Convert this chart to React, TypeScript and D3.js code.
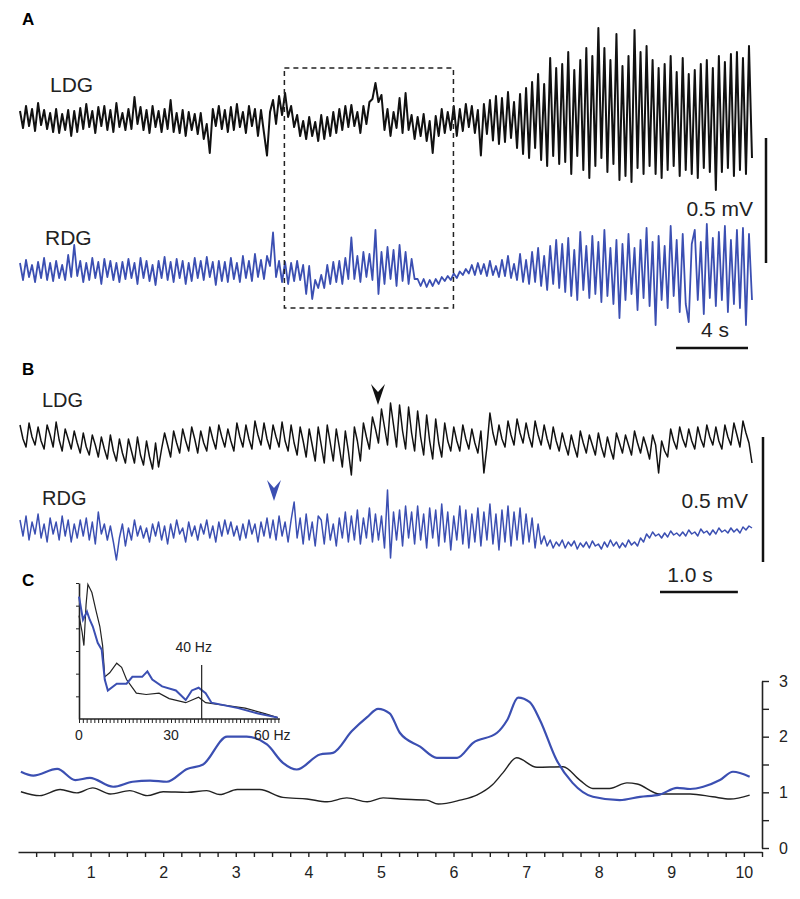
import React, { useEffect, useRef } from "react";
import * as d3 from "d3";

const W = 800;
const H = 899;
const BLUE = "#3b4fb2";
const INK = "#111";
const FONT = "'Liberation Sans', Arial, Helvetica, sans-serif";

// A: 40.7 s of dentate gyrus field potential (µV), evenly sampled
const A_SECONDS = 40.7;
const aLdg = [
  28, -40, 48, -32, 36, -52, 60, -28, 32, -44,
  20, -56, 36, -60, 16, -48, 32, -72, 28, -56,
  40, -44, 56, -36, 28, -60, 44, -32, 48, -48,
  32, -56, 60, -36, 20, -48, 36, -44, 84, -24,
  44, -48, 32, -60, 48, -36, 28, -56, 36, -44,
  72, -56, 20, -60, 32, -72, 24, -48, 16, -64,
  20, -84, -24, -140, 36, -32, 48, -44, 32, -56,
  44, -48, 56, -36, 24, -60, 48, -32, 36, -72,
  32, -60, -150, 24, 72, -24, 88, 12, 100, 4,
  48, -36, 12, -72, -12, -84, 4, -72, -16, -92,
  12, -84, 4, -72, 24, -60, 36, -48, 48, -36,
  52, -32, 24, -60, 48, -24, 64, 76, 140, 64,
  92, -48, 36, -72, 24, -40, 80, -60, 100, -48,
  12, -84, 4, -72, 16, -92, -12, -140, 8, -72,
  36, -60, 24, -48, 48, -72, 36, -52, 56, -36,
  48, -60, 32, -150, 56, -64, 72, -90, 88, -104,
  80, -96, 104, -80, 64, -120, 96, -144, 120, -160,
  144, -120, 176, -168, 136, -192, 240, -152, 200, -184,
  216, -176, 264, -224, 192, -152, 232, -208, 280, -240,
  248, -192, 360, -160, 280, -216, 232, -184, 336, -248,
  208, -232, 248, -256, 352, -200, 264, -224, 288, -192,
  232, -224, 200, -240, 216, -208, 248, -192, 184, -232,
  240, -208, 176, -224, 192, -240, 216, -200, 232, -216,
  200, -288, 248, -216, 224, -200, 256, -232, 264, -208,
  240, -224, 288, -160,
];
const aRdg = [
  28, -40, 40, -28, 20, -48, 32, -32, 48, -40,
  28, -44, 36, -32, 20, -40, 60, -28, 100, -24,
  36, -48, 28, -40, 48, -32, 32, -56, 44, -28,
  36, -40, 28, -48, 32, -36, 44, -32, 28, -56,
  48, -32, 36, -44, 20, -60, 36, -32, 52, -40,
  32, -48, 44, -32, 36, -56, 28, -44, 48, -32,
  36, -40, 52, -28, 32, -60, 36, -44, 32, -48,
  48, -36, 28, -48, 56, -32, 36, -44, 64, -28,
  40, -36, 56, 16, 150, -28, 36, -48, 32, -56,
  28, -44, 36, -40, 20, -96, 16, -116, -40, -72,
  -20, -72, 20, -56, 32, -48, 36, -56, 48, -36,
  130, -36, 56, -48, 72, -28, 64, -40, 160, -96,
  72, -56, 92, -36, 80, -64, 100, -44, 72, -56,
  44, -36, -36, -64, -36, -68, -40, -64, -36, -56,
  -28, -44, -24, -40, -14, -32, -6, -20, 4, -14,
  20, -20, 28, -16, 24, -24, 36, -20, 16, -28,
  40, -24, 56, -32, 24, -40, 64, -48, 40, -56,
  72, -48, 88, -64, 56, -80, 96, -56, 120, -72,
  104, -88, 128, -104, 80, -120, 152, -80, 96, -112,
  136, -96, 112, -128, 160, -104, 88, -136, 120, -192,
  104, -120, 144, -96, 88, -160, 120, -112, 168, -144,
  112, -220, 136, -120, 96, -152, 176, -104, 120, -168,
  144, -136, -208, 104, 160, -120, 112, -176, 184, -112,
  128, -144, 152, -120, 176, -168, 120, -136, 160, -152,
  168, -220, 144, -120,
];

// B: the boxed 9.4 s stretch, expanded
const B_SECONDS = 9.4;
const B_START = 14.7;
const bLdg = [
  48, -8, -40, 56, 0, -32, 40, -16, -48,
  48, 8, -40, 60, -12, -56, 32, -8, -48,
  24, -24, -64, 16, -40, -72, 8, -32, -80,
  0, -48, -88, 8, -56, -96, -8, -64, -104,
  -8, -56, -104, 0, -72, -112, -16, -80, -128,
  -24, -120, -48, 16, -32, -80, 24, -24, -64,
  32, -16, -56, 40, -8, -64, 24, -24, -56,
  40, -8, -48, 48, 0, -40, 32, -16, -56,
  56, 0, -40, 48, -8, -48, 64, 8, -32,
  56, -8, -48, 48, 0, -40, 60, -16, -56,
  48, -24, -72, 40, -16, -80, 32, -32, -96,
  40, -32, -104, 48, -24, -96, 32, -40, -120,
  24, -56, -152, 40, -16, -96, 56, 0, -48,
  80, 32, -24, 112, 40, -32, 136, 48, -40,
  128, 24, -48, 120, 16, -56, 104, 0, -72,
  88, -16, -88, 72, -24, -80, 56, -16, -56,
  40, -16, -56, 48, -8, -48, 32, -24, -64,
  24, -144, -40, 96, 16, -32, 48, -8, -40,
  64, 8, -32, 72, 16, -24, 56, 0, -40,
  64, 8, -32, 48, -8, -48, 40, -16, -56,
  16, -32, -72, 8, -40, -80, 24, -24, -64,
  8, -32, -72, 16, -40, -80, 0, -48, -88,
  16, -24, -64, 8, -32, -72, 24, -24, -64,
  0, -40, -88, 8, -32, -144, -16, -56, -80,
  32, -16, -48, 40, -8, -40, 32, -16, -48,
  40, -8, -40, 48, 0, -32, 40, -16, -48,
  48, 0, -32, 56, 8, -40, 64, 16, -24,
  -104,
];
const bRdg = [
  40, -24, 56, -40, 32, -16, 64, -32, 24, -48,
  48, -16, 32, -40, 56, -24, 40, -48, 24, -32,
  40, -24, 48, -40, 32, -56, 72, -16, 24, -40,
  16, -48, -120, -32, 24, -64, 8, -40, 40, -24,
  16, -32, 8, -48, 24, -24, 32, -40, 16, -56,
  24, -32, 40, -16, 8, -48, 32, -24, 16, -40,
  24, -16, 40, -32, 16, -48, 32, -24, 40, -16,
  32, -24, 16, -40, 24, -32, 40, -16, 24, -48,
  32, -24, 48, -32, 40, -40, 56, -24, 32, -48,
  40, 112, -32, 48, -56, 64, -40, 32, -64, 56,
  40, -56, 64, -40, 24, -64, 48, -32, 72, -48,
  56, -40, 80, -56, 48, -32, 88, -48, 64, -40,
  56, -72, 160, -112, 72, -40, 80, -64, 96, -32,
  72, -56, 96, -40, 64, -72, 88, -32, 80, -64,
  104, -48, 72, -80, 56, -40, 96, -56, 80, -72,
  64, -48, 88, -64, 72, -40, 104, -56, 64, -80,
  80, -48, 96, -64, 72, -40, 88, -56, 64, -48,
  48, -72, 24, -56, -24, -64, -40, -72, -48, -64,
  -40, -72, -48, -64, -44, -76, -52, -68, -48, -72,
  -44, -64, -56, -76, -48, -68, -40, -64, -48, -72,
  -52, -68, -40, -60, -48, -64, -32, -48, -16, -32,
  -8, -24, -16, -32, -12, -28, -4, -20, -12, -24,
  -8, -24, 0, -16, -8, -24, 4, -12, -4, -20,
  0, -16, 8, -8, 0, -12, 8, -8, 4, -12,
  12, 0, 16, 8,
];

// C: normalised 40 Hz power over time (min)
const cBlueTime = [0.04, 0.21, 0.54, 0.79, 0.99, 1.31, 1.58, 1.82, 2.05, 2.33, 2.55, 2.88, 3.15, 3.43, 3.65, 3.84, 4.16, 4.34, 4.6, 4.81, 4.96, 5.12, 5.26, 5.54, 5.77, 6.05, 6.27, 6.6, 6.74, 6.89, 7.05, 7.19, 7.42, 7.64, 7.92, 8.29, 8.57, 8.84, 9.08, 9.26, 9.44, 9.67, 9.85, 10.08];
const cBlue = [1.37, 1.3, 1.42, 1.22, 1.26, 1.1, 1.19, 1.21, 1.19, 1.42, 1.5, 2.0, 2.0, 1.86, 1.53, 1.41, 1.68, 1.71, 2.1, 2.35, 2.5, 2.42, 2.07, 1.82, 1.62, 1.62, 1.89, 2.07, 2.3, 2.7, 2.62, 2.3, 1.58, 1.17, 0.92, 0.86, 0.92, 0.96, 1.08, 1.06, 1.1, 1.22, 1.37, 1.28];
const cBlackTime = [0.04, 0.3, 0.58, 0.81, 1.03, 1.27, 1.54, 1.78, 2.0, 2.33, 2.6, 2.78, 3.02, 3.33, 3.65, 3.98, 4.26, 4.53, 4.81, 5.03, 5.26, 5.63, 5.79, 6.09, 6.32, 6.54, 6.68, 6.87, 7.15, 7.51, 7.74, 7.92, 8.15, 8.39, 8.53, 8.84, 9.26, 9.57, 9.81, 10.08];
const cBlack = [1.01, 0.94, 1.05, 0.99, 1.08, 0.97, 1.03, 0.94, 1.01, 1.0, 1.03, 0.96, 1.05, 1.05, 0.91, 0.88, 0.83, 0.9, 0.83, 0.9, 0.88, 0.86, 0.79, 0.86, 0.95, 1.14, 1.35, 1.62, 1.45, 1.46, 1.22, 1.07, 1.07, 1.17, 1.15, 0.97, 0.97, 0.92, 0.88, 0.95];
const cXLabels = [1, 2, 3, 4, 5, 6, 7, 8, 9, 10];
const cYLabels = [0, 1, 2, 3];

// inset: power spectra (relative)
const specBlackHz = [0, 1.0, 1.6, 2.3, 2.9, 4.2, 5.5, 6.8, 7.7, 8.4, 10.0, 12.3, 13.9, 15.5, 18.7, 21.9, 26.1, 29.4, 34.8, 39.0, 41.3, 47.7, 54.2, 60.6, 64.8];
const specBlack = [0.76, 0.64, 0.54, 0.84, 0.99, 0.93, 0.8, 0.68, 0.54, 0.31, 0.34, 0.41, 0.38, 0.29, 0.19, 0.18, 0.19, 0.15, 0.12, 0.16, 0.12, 0.1, 0.08, 0.04, 0.01];
const specBlueHz = [0, 1.3, 2.6, 3.5, 4.5, 6.1, 7.4, 8.4, 9.4, 12.3, 15.5, 17.4, 20.6, 22.3, 23.9, 27.1, 31.6, 34.8, 36.8, 39.0, 41.3, 43.2, 51.9, 58.4, 64.8];
const specBlue = [0.9, 0.73, 0.79, 0.73, 0.68, 0.56, 0.51, 0.29, 0.21, 0.26, 0.26, 0.31, 0.31, 0.35, 0.29, 0.24, 0.21, 0.14, 0.21, 0.23, 0.19, 0.12, 0.08, 0.04, 0.01];
const insetLabels = ["0", "30", "60 Hz"];

const App = () => {
  const ref = useRef<SVGSVGElement>(null);

  useEffect(() => {
    const svg = d3.select(ref.current);
    svg.selectAll("*").remove();
    svg.attr("font-family", FONT);

    const mv = (base: number) => d3.scaleLinear().domain([0, 500]).range([base, base - 125]);
    const text = (x: number, y: number, s: string, size: number, opts: any = {}) =>
      svg.append("text").attr("x", x).attr("y", y).attr("font-size", size)
        .attr("fill", opts.fill || "#222").attr("font-weight", opts.bold ? "bold" : null)
        .attr("text-anchor", opts.anchor || "start").text(s);

    const drawTrace = (vals: number[], seconds: number, x: any, y: any, color: string, w: number) => {
      const dt = seconds / (vals.length - 1);
      svg.append("path")
        .attr("d", d3.line<number>().x((_, i) => x(i * dt)).y((v) => y(v))(vals))
        .attr("fill", "none").attr("stroke", color).attr("stroke-width", w)
        .attr("stroke-linejoin", "round");
    };

    // ---- A
    const xA = d3.scaleLinear().domain([0, A_SECONDS]).range([20, 752]);
    text(22, 25, "A", 17, { bold: true, fill: "#000" });
    text(50, 92, "LDG", 21);
    text(45, 245, "RDG", 21);
    drawTrace(aLdg, A_SECONDS, xA, mv(118), INK, 2);
    drawTrace(aRdg, A_SECONDS, xA, mv(270), BLUE, 1.8);
    svg.append("rect")
      .attr("x", xA(B_START)).attr("y", 68)
      .attr("width", xA(B_START + B_SECONDS) - xA(B_START)).attr("height", 240)
      .attr("fill", "none").attr("stroke", "#222").attr("stroke-width", 1.5)
      .attr("stroke-dasharray", "5,4");
    const barA = mv(263);
    svg.append("line").attr("x1", 766).attr("x2", 766).attr("y1", barA(0)).attr("y2", barA(500))
      .attr("stroke", INK).attr("stroke-width", 2.5);
    text(753, 216, "0.5 mV", 21, { anchor: "end" });
    svg.append("line").attr("x1", 748 - (xA(4) - xA(0))).attr("x2", 748).attr("y1", 348).attr("y2", 348)
      .attr("stroke", INK).attr("stroke-width", 2.5);
    text(715, 337, "4 s", 21, { anchor: "middle" });

    // ---- B
    const xB = d3.scaleLinear().domain([0, B_SECONDS]).range([20, 752]);
    text(22, 375, "B", 17, { bold: true, fill: "#000" });
    text(42, 407, "LDG", 20);
    text(42, 505, "RDG", 20);
    drawTrace(bLdg, B_SECONDS, xB, mv(437), INK, 1.5);
    drawTrace(bRdg, B_SECONDS, xB, mv(530), BLUE, 1.5);
    const arrow = (x: number, tip: number, color: string) =>
      svg.append("path")
        .attr("d", `M${x},${tip} L${x - 7},${tip - 21} L${x},${tip - 13} L${x + 7},${tip - 21} Z`)
        .attr("fill", color);
    arrow(378, 405, INK);
    arrow(274, 501, BLUE);
    const barB = mv(562);
    svg.append("line").attr("x1", 763).attr("x2", 763).attr("y1", barB(0)).attr("y2", barB(500))
      .attr("stroke", INK).attr("stroke-width", 2.5);
    text(748, 508, "0.5 mV", 21, { anchor: "end" });
    svg.append("line").attr("x1", 660).attr("x2", 660 + xB(1) - xB(0)).attr("y1", 592).attr("y2", 592)
      .attr("stroke", INK).attr("stroke-width", 2.5);
    text(690, 582, "1.0 s", 21, { anchor: "middle" });

    // ---- C
    text(22, 586, "C", 17, { bold: true, fill: "#000" });
    const xC = d3.scaleLinear().domain([0, 10.25]).range([18, 762]);
    const yC = d3.scaleLinear().domain([0, 3]).range([848, 681]);
    const gx = svg.append("g").attr("transform", "translate(0,852)")
      .call(d3.axisBottom(xC).tickValues(d3.range(0.25, 10.26, 0.25)).tickSize(5).tickSizeOuter(0)
        .tickFormat((d: any) => (cXLabels.includes(d) ? String(d) : "")));
    gx.select(".domain").attr("stroke", "#222").attr("stroke-width", 1.6);
    gx.selectAll(".tick line").attr("stroke", "#222").attr("stroke-width", 1.4);
    gx.selectAll("text").attr("font-size", 16).attr("font-family", FONT).attr("fill", "#222").attr("dy", "1.1em");
    const gy = svg.append("g").attr("transform", "translate(762,0)")
      .call(d3.axisRight(yC).tickValues(d3.range(0, 3.01, 0.5)).tickSize(7).tickSizeOuter(0).tickPadding(10)
        .tickFormat((d: any) => (cYLabels.includes(d) ? String(d) : "")));
    gy.select(".domain").attr("stroke", "#222").attr("stroke-width", 1.6);
    gy.selectAll(".tick line").attr("stroke", "#222").attr("stroke-width", 1.4);
    gy.selectAll("text").attr("font-size", 16).attr("font-family", FONT).attr("fill", "#222");

    const curve = (t: number[], v: number[], color: string, w: number) =>
      svg.append("path")
        .attr("d", d3.line<number>().x((_, i) => xC(t[i])).y((d) => yC(d)).curve(d3.curveMonotoneX)(v))
        .attr("fill", "none").attr("stroke", color).attr("stroke-width", w);
    curve(cBlackTime, cBlack, "#222", 1.4);
    curve(cBlueTime, cBlue, BLUE, 2.2);

    // inset spectrum
    const xI = d3.scaleLinear().domain([0, 60]).range([79, 263]);
    const yI = d3.scaleLinear().domain([0, 1]).range([719, 583]);
    const gix = svg.append("g").attr("transform", "translate(0,719)")
      .call(d3.axisBottom(xI).tickValues(d3.range(0, 65.1, 1.25)).tickSize(4).tickSizeOuter(0).tickFormat(() => ""));
    gix.select(".domain").attr("d", `M${xI(0)},0H${xI(65.5)}`).attr("stroke", "#222").attr("stroke-width", 1.6);
    gix.selectAll(".tick line").attr("stroke", "#222");
    const giy = svg.append("g").attr("transform", "translate(79,0)")
      .call(d3.axisLeft(yI).tickValues(d3.range(1 / 6, 1, 1 / 6)).tickSize(3).tickSizeOuter(0).tickFormat(() => ""));
    giy.select(".domain").attr("stroke", "#222").attr("stroke-width", 1.6);
    giy.selectAll(".tick line").attr("stroke", "#222");
    [0, 30, 60].forEach((hz, i) =>
      text(xI(hz) + (i === 2 ? -9 : 0), 740, insetLabels[i], 14, { anchor: i === 2 ? "start" : "middle" }));
    const spec = (hz: number[], v: number[], color: string, w: number) =>
      svg.append("path")
        .attr("d", d3.line<number>().x((_, i) => xI(hz[i])).y((d) => yI(d))(v))
        .attr("fill", "none").attr("stroke", color).attr("stroke-width", w);
    spec(specBlackHz, specBlack, "#222", 1.2);
    spec(specBlueHz, specBlue, BLUE, 2);
    svg.append("line").attr("x1", xI(40)).attr("x2", xI(40)).attr("y1", 665).attr("y2", 719)
      .attr("stroke", "#222").attr("stroke-width", 1.2);
    text(xI(40) - 8, 652, "40 Hz", 14, { anchor: "middle" });
  }, []);

  return (
    <div>
      <style>{`body{margin:0;background:#fff}`}</style>
      <svg ref={ref} width={W} height={H} style={{ display: "block" }} />
    </div>
  );
};

export default App;
